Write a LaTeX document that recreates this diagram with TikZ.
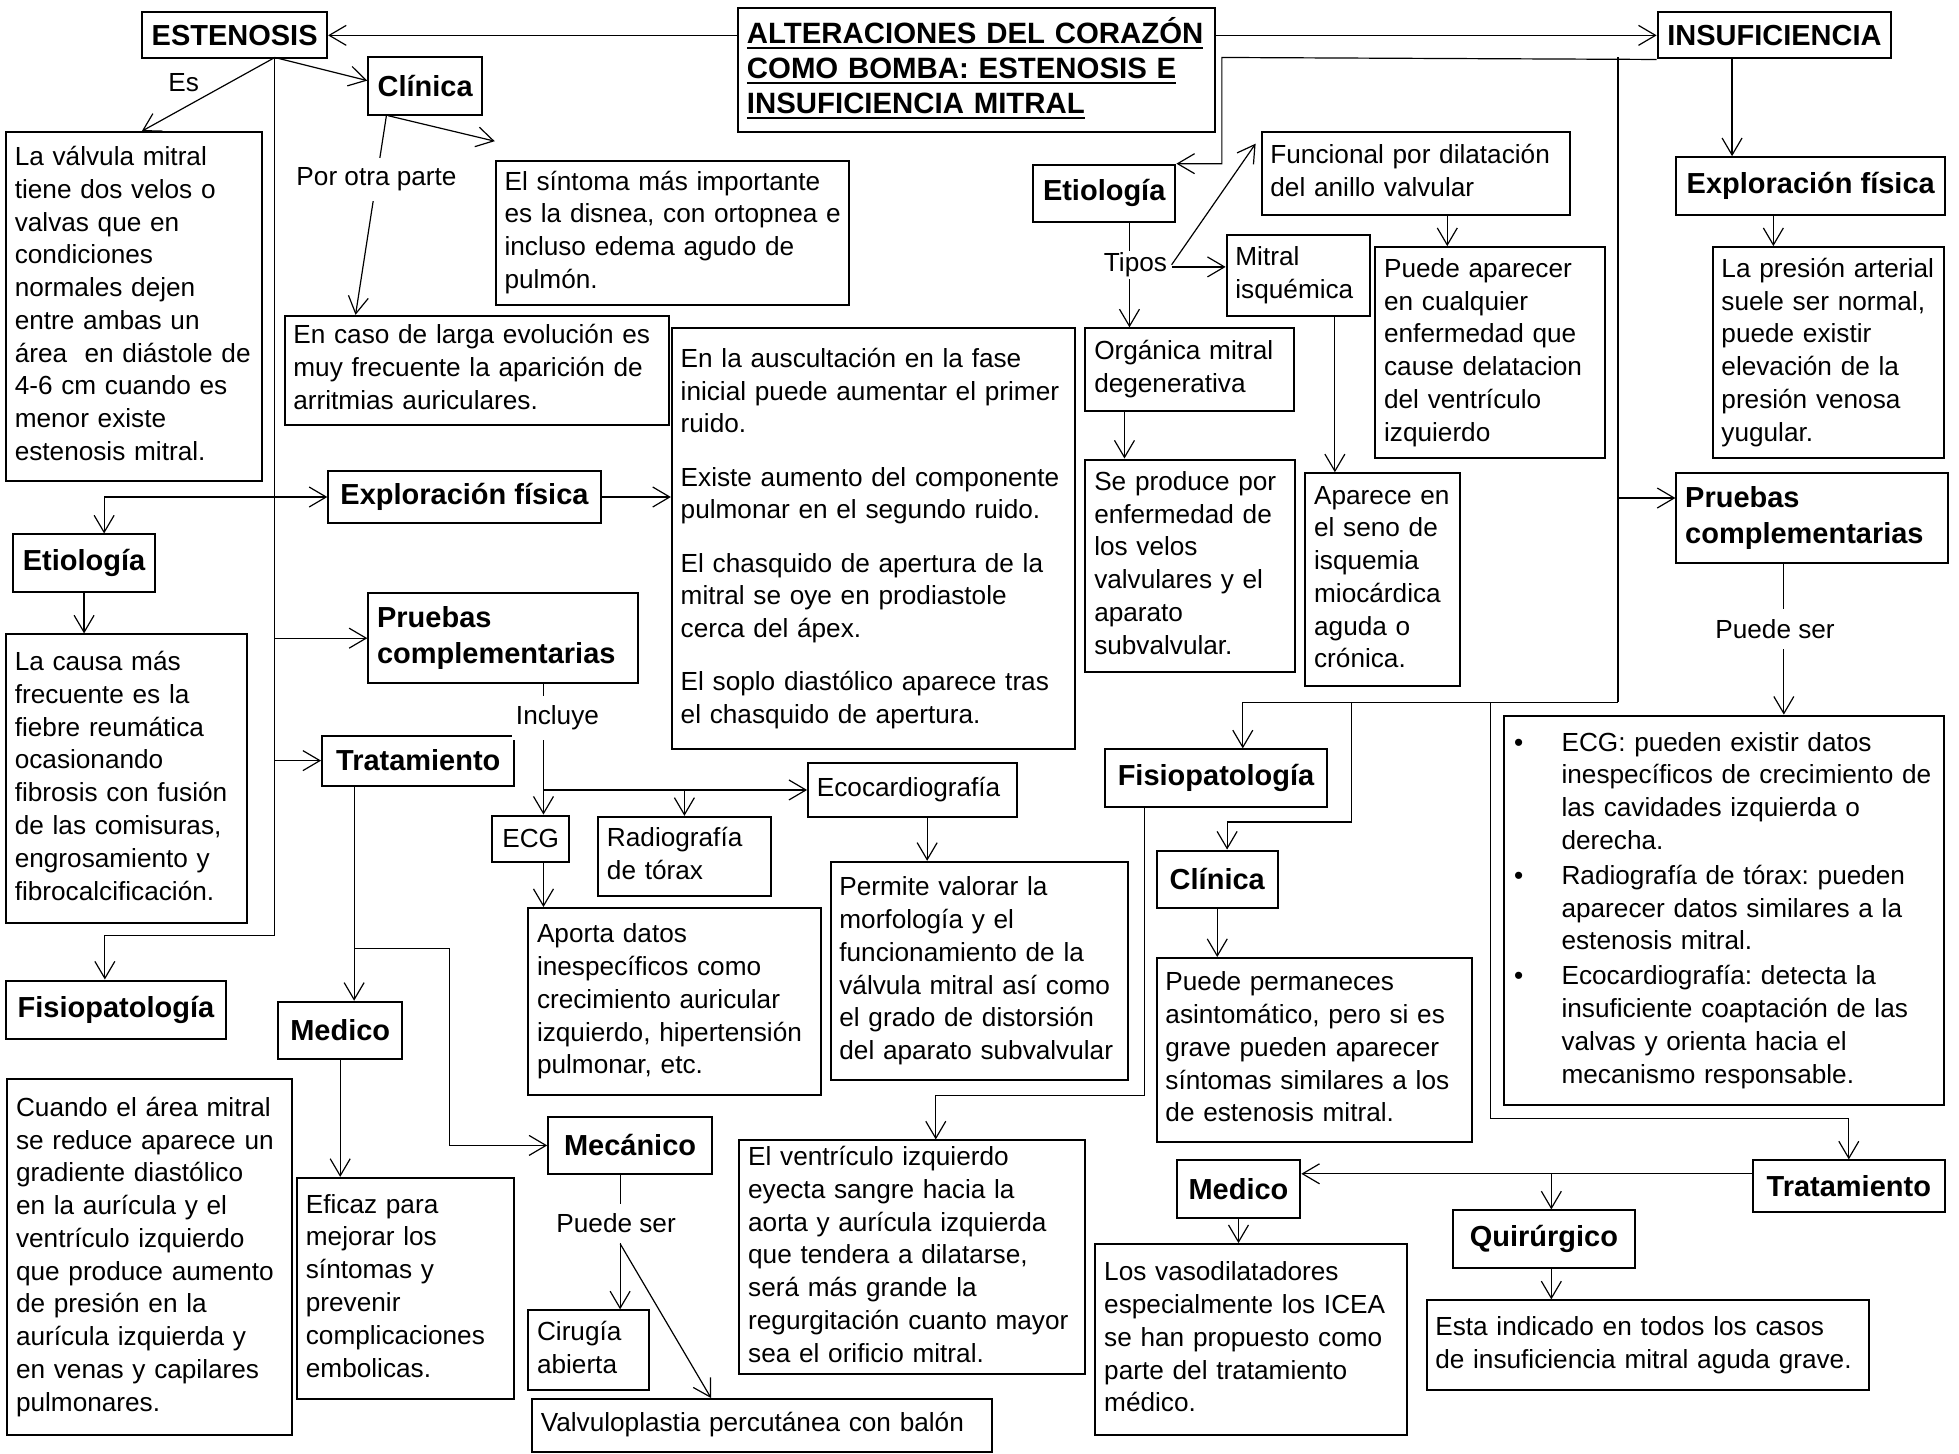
\documentclass[tikz,border=0pt]{standalone}
\usepackage{fontspec}
\setmainfont{Liberation Sans}
\usetikzlibrary{arrows.meta,calc}
\frenchspacing

% fonts
\newcommand\bodyfont{\fontsize{13.1}{16.4}\selectfont}
\newcommand\headfont{\fontsize{14.5}{18}\selectfont\bfseries}
\newcommand\titlefont{\fontsize{14.7}{17.5}\selectfont\bfseries}
% left-aligned block of explicit lines
\newcommand\tx[1]{\noindent\begin{tabular}{@{}l@{}}#1\end{tabular}}
% thick underline for the title
\newcommand\uln[1]{\vtop{\hbox{#1}\kern1.8pt\hrule height 1.2pt}}
% bullet items
\newcommand\bul{\makebox[24.4pt][l]{\hspace{0.7pt}\textbullet}}
\newcommand\nob{\hspace*{24.4pt}}

\tikzset{
  box/.style={draw, line width=1pt, inner xsep=4.4pt, inner ysep=0pt, font=\bodyfont},
  ln/.style={line width=0.6pt},
  arr/.style={line width=0.6pt, -{Straight Barb[length=8.5pt,width=10pt]}},
  lbl/.style={font=\bodyfont, fill=white, inner xsep=2pt, inner ysep=5pt}
}

% text box: name, x1, y1, x2, y2, lines
\newcommand\tb[7][]{%
  \pgfmathsetmacro\bw{(#5-#3)*0.625}%
  \pgfmathsetmacro\bh{(#6-#4)*0.625}%
  \pgfmathsetmacro\tw{\bw-8.8}%
  \node[box,text width=\tw pt,anchor=north west,minimum width=\bw pt,minimum height=\bh pt,#1] (#2) at (#3,#4) {\tx{#7}};}
% heading box: name, x1, y1, x2, y2, text
\newcommand\hb[7][]{%
  \pgfmathsetmacro\bw{(#5-#3)*0.625}%
  \pgfmathsetmacro\bh{(#6-#4)*0.625}%
  \node[box,font=\headfont,anchor=north west,minimum width=\bw pt,minimum height=\bh pt,#1] (#2) at (#3,#4) {#7};}

\begin{document}
\begin{tikzpicture}[x=0.625pt,y=-0.625pt]
\fill[white] (0,0) rectangle (1568,1163);
\useasboundingbox (0,0) rectangle (1568,1163);

% ---------- title and main branches ----------
\tb[font=\titlefont]{title}{590}{6}{972}{105}{\uln{ALTERACIONES DEL CORAZÓN}\\\uln{COMO BOMBA: ESTENOSIS E}\\\uln{INSUFICIENCIA MITRAL}}
\hb{est}{113}{9}{261}{46}{ESTENOSIS}
\hb{ins}{1326}{9}{1513}{46}{INSUFICIENCIA}

% ---------- estenosis ----------
\hb{clin1}{294}{45}{385}{91}{Clínica}
\tb{valv}{4}{105}{209}{384}{La válvula mitral\\tiene dos velos o\\valvas que en\\condiciones\\normales dejen\\entre ambas un\\área\ \ en diástole de\\4-6 cm cuando es\\menor existe\\estenosis mitral.}
\tb{sint}{396}{128}{679}{243}{El síntoma más importante\\es la disnea, con ortopnea e\\incluso edema agudo de\\pulmón.}
\tb{larga}{227}{252}{535}{339}{En caso de larga evolución es\\muy frecuente la aparición de\\arritmias auriculares.}
\tb{ausc}{537}{262}{860}{599}{En la auscultación en la fase\\inicial puede aumentar el primer\\ruido.\\[10.2pt]Existe aumento del componente\\pulmonar en el segundo ruido.\\[10.2pt]El chasquido de apertura de la\\mitral se oye en prodiastole\\cerca del ápex.\\[10.2pt]El soplo diastólico aparece tras\\el chasquido de apertura.}
\hb{expl1}{262}{376}{480}{418}{Exploración física}
\hb{etio1}{10}{427}{123}{473}{Etiología}
\tb{causa}{4}{507}{197}{738}{La causa más\\frecuente es la\\fiebre reumática\\ocasionando\\fibrosis con fusión\\de las comisuras,\\engrosamiento y\\fibrocalcificación.}
\tb[font=\headfont]{prue1}{294}{474}{510}{546}{Pruebas\\complementarias}
\hb{trat1}{257}{588}{411}{628}{Tratamiento}
\hb[font=\bodyfont]{ecg}{393}{652}{455}{689}{ECG}
\tb{radio}{478}{653}{616}{716}{Radiografía\\de tórax}
\tb{eco}{646}{610}{813}{653}{Ecocardiografía}
\tb{aporta}{422}{726}{656}{876}{Aporta datos\\inespecíficos como\\crecimiento auricular\\izquierdo, hipertensión\\pulmonar, etc.}
\tb{permite}{664}{689}{902}{864}{Permite valorar la\\morfología y el\\funcionamiento de la\\válvula mitral así como\\el grado de distorsión\\del aparato subvalvular}
\hb{fisio1}{4}{784}{180}{831}{Fisiopatología}
\tb{cuando}{5}{863}{233}{1148}{Cuando el área mitral\\se reduce aparece un\\gradiente diastólico\\en la aurícula y el\\ventrículo izquierdo\\que produce aumento\\de presión en la\\aurícula izquierda y\\en venas y capilares\\pulmonares.}
\hb{medico1}{222}{801}{321}{847}{Medico}
\tb{eficaz}{237}{942}{411}{1119}{Eficaz para\\mejorar los\\síntomas y\\prevenir\\complicaciones\\embolicas.}
\hb{mecan}{438}{893}{569}{939}{Mecánico}
\tb{cirugia}{422}{1048}{519}{1112}{Cirugía\\abierta}
\tb{valvu}{425}{1119}{793}{1161}{Valvuloplastia percutánea con balón}

% ---------- insuficiencia ----------
\hb{etio2}{826}{131}{940}{177}{Etiología}
\tb{func}{1009}{105}{1256}{171}{Funcional por dilatación\\del anillo valvular}
\tb{isq}{981}{187}{1096}{252}{Mitral\\isquémica}
\tb{pueda}{1100}{197}{1284}{366}{Puede aparecer\\en cualquier\\enfermedad que\\cause delatacion\\del ventrículo\\izquierdo}
\tb{org}{868}{262}{1035}{328}{Orgánica mitral\\degenerativa}
\tb{seprod}{868}{367}{1036}{537}{Se produce por\\enfermedad de\\los velos\\valvulares y el\\aparato\\subvalvular.}
\tb{aparece}{1044}{378}{1168}{548}{Aparece en\\el seno de\\isquemia\\miocárdica\\aguda o\\crónica.}
\hb{expl2}{1341}{125}{1556}{171}{Exploración física}
\tb{presion}{1370}{197}{1555}{366}{La presión arterial\\suele ser normal,\\puede existir\\elevación de la\\presión venosa\\yugular.}
\tb[font=\headfont]{prue2}{1341}{378}{1558}{450}{Pruebas\\complementarias}
\tb{bullets}{1203}{572}{1555}{884}{\bul ECG: pueden existir datos\\\nob inespecíficos de crecimiento de\\\nob las cavidades izquierda o\\\nob derecha.\\[1pt]\bul Radiografía de tórax: pueden\\\nob aparecer datos similares a la\\\nob estenosis mitral.\\[1pt]\bul Ecocardiografía: detecta la\\\nob insuficiente coaptación de las\\\nob valvas y orienta hacia el\\\nob mecanismo responsable.}
\hb{fisio2}{884}{599}{1061}{645}{Fisiopatología}
\hb{clin2}{925}{680}{1022}{726}{Clínica}
\tb{perm}{925}{766}{1177}{913}{Puede permaneces\\asintomático, pero si es\\grave pueden aparecer\\síntomas similares a los\\de estenosis mitral.}
\tb{ventr}{591}{912}{868}{1099}{El ventrículo izquierdo\\eyecta sangre hacia la\\aorta y aurícula izquierda\\que tendera a dilatarse,\\será más grande la\\regurgitación cuanto mayor\\sea el orificio mitral.}
\hb{trat2}{1402}{928}{1556}{969}{Tratamiento}
\hb{med2}{941}{928}{1040}{974}{Medico}
\hb{quir}{1162}{968}{1308}{1014}{Quirúrgico}
\tb{vaso}{876}{995}{1125}{1148}{Los vasodilatadores\\especialmente los ICEA\\se han propuesto como\\parte del tratamiento\\médico.}
\tb{indic}{1141}{1040}{1495}{1112}{Esta indicado en todos los casos\\de insuficiencia mitral aguda grave.}

% ---------- connectors: title ----------
\draw[arr] (title.west |- est.east) -- (est.east);
\draw[arr] (title.east |- ins.west) -- (ins.west);

% ---------- connectors: estenosis ----------
\coordinate (trunk) at (220,46);
\coordinate (tbot) at (220,749);
\draw[arr] (trunk) -- ($(valv.north west)!0.53!(valv.north east)$);
\node[lbl,fill=none] (es) at (147,66) {Es};
\draw[arr] (trunk) -- ($(clin1.north west)!0.41!(clin1.south west)$);
\draw[ln] (trunk) -- (tbot);
\draw[arr] (tbot) -| ($(fisio1.north west)!0.45!(fisio1.north east)$);
\draw[arr] (trunk |- expl1.west) -- (expl1.west);
\draw[arr] (trunk |- expl1.west) -| ($(etio1.north west)!0.64!(etio1.north east)$);
\draw[arr] (trunk |- prue1.west) -- (prue1.west);
\draw[arr] (trunk |- trat1.west) -- (trat1.west);

\coordinate (sintTip) at (396,113);
\draw[arr] ($(clin1.south west)!0.18!(clin1.south east)$) -- (sintTip);
\draw[arr] ($(clin1.south west)!0.165!(clin1.south east)$) -- ($(larga.north west)!0.186!(larga.north east)$) node[lbl,pos=0.32] (otra) {Por otra parte};

\draw[arr] (expl1.east) -- (expl1.east -| ausc.west);
\draw[arr] (etio1.south) -- (etio1.south |- causa.north);

\coordinate (pP) at ($(prue1.south west)!0.648!(prue1.south east)$);
\draw[arr] (pP) -- (pP |- ecg.north) node[lbl,pos=0.26,xshift=7pt] (incl) {Incluye};
\draw[arr] (pP |- eco.west) -- (eco.west);
\draw[arr] (radio.north |- eco.west) -- (radio.north);
\draw[arr] (pP |- ecg.south) -- (pP |- aporta.north);
\coordinate (eP) at ($(eco.south west)!0.57!(eco.south east)$);
\draw[arr] (eP) -- (eP |- permite.north);

\coordinate (tP) at ($(trat1.south west)!0.17!(trat1.south east)$);
\coordinate (tJ) at (360,759);
\draw[arr] (tP) -- (tP |- medico1.north);
\draw[arr] (tP |- tJ) -- (tJ) |- (mecan.west);
\draw[arr] (medico1.south) -- (medico1.south |- eficaz.north);

\coordinate (mP) at ($(mecan.south west)!0.44!(mecan.south east)$);
\draw[arr] (mP) -- (mP |- cirugia.north) node[lbl,pos=0.36,xshift=-2pt] (pser1) {Puede ser};
\draw[arr] (mP |- pser1.south) -- ($(valvu.north west)!0.39!(valvu.north east)$);

% ---------- connectors: insuficiencia ----------
\coordinate (iB) at (978,46);
\coordinate (rT) at (1295,46);
\coordinate (rB) at (1295,562);
\draw[arr] (ins.south west) -- (iB) |- (etio2.north east);
\draw[ln] (rT) -- (rB);
\coordinate (prP) at ($(prue2.north west)!0.28!(prue2.south west)$);
\draw[arr] (rT |- prP) -- (prP);
\draw[arr] (rB) -| ($(fisio2.north west)!0.62!(fisio2.north east)$);
\coordinate (j1) at (1082,562);
\coordinate (j1b) at (1082,658);
\draw[arr] (j1) -- (j1b) -| ($(clin2.north west)!0.58!(clin2.north east)$);
\coordinate (j2) at (1193,562);
\coordinate (j2b) at (1193,895);
\draw[arr] (j2) -- (j2b) -| (trat2.north);

\coordinate (fP) at ($(fisio2.south west)!0.18!(fisio2.south east)$);
\coordinate (vJ) at (749,877);
\draw[arr] (fP) |- (vJ) -- (vJ |- ventr.north);
\draw[arr] (clin2.south) -- (clin2.south |- perm.north);

\coordinate (tW) at ($(trat2.north west)!0.27!(trat2.south west)$);
\draw[arr] (tW) -- (tW -| med2.east);
\coordinate (qP) at ($(quir.north west)!0.54!(quir.north east)$);
\draw[arr] (qP |- tW) -- (qP);
\draw[arr] (med2.south) -- (med2.south |- vaso.north);
\draw[arr] (qP |- quir.south) -- (qP |- indic.north);

\coordinate (eT) at ($(etio2.south west)!0.675!(etio2.south east)$);
\draw[arr] (eT) -- (eT |- org.north) node[lbl,pos=0.4,inner ysep=1pt,xshift=3pt] (tipos) {Tipos};
\coordinate (isqP) at ($(isq.north west)!0.4!(isq.south west)$);
\draw[arr] (tipos.east |- isqP) -- (isqP);
\coordinate (funcTip) at (1005,115);
\draw[arr] (tipos.east) -- (funcTip);
\coordinate (fuP) at ($(func.south west)!0.601!(func.south east)$);
\draw[arr] (fuP) -- (fuP |- pueda.north);
\coordinate (iqP) at ($(isq.south west)!0.75!(isq.south east)$);
\draw[arr] (iqP) -- (iqP |- aparece.north);
\coordinate (oP) at ($(org.south west)!0.19!(org.south east)$);
\draw[arr] (oP) -- (oP |- seprod.north);

\coordinate (inP) at ($(ins.south west)!0.32!(ins.south east)$);
\draw[arr] (inP) -- (inP |- expl2.north);
\coordinate (xP) at ($(expl2.south west)!0.362!(expl2.south east)$);
\draw[arr] (xP) -- (xP |- presion.north);
\coordinate (pr2P) at ($(prue2.south west)!0.397!(prue2.south east)$);
\draw[arr] (pr2P) -- (pr2P |- bullets.north) node[lbl,pos=0.43,xshift=-4.4pt] (pser2) {Puede ser};
\end{tikzpicture}
\end{document}
